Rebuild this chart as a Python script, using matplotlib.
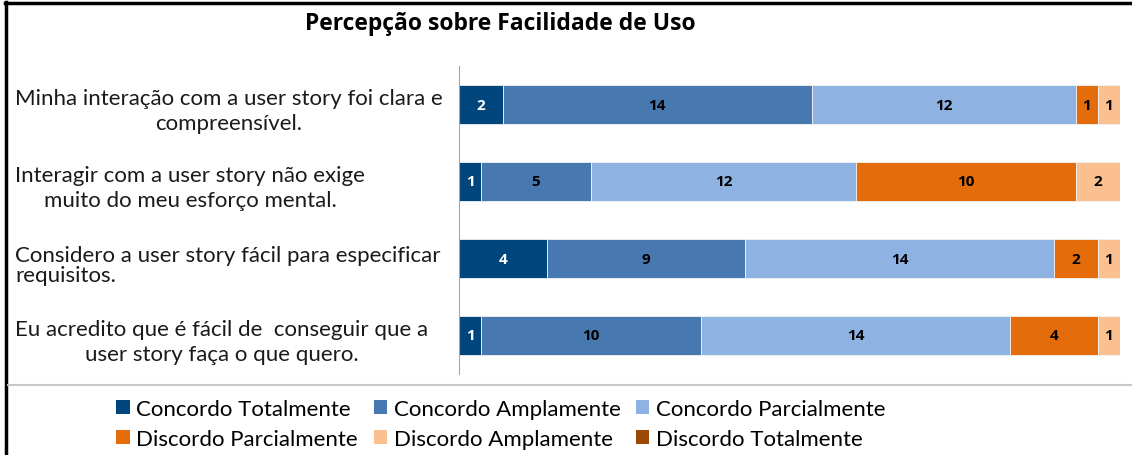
import matplotlib.pyplot as plt
from matplotlib.lines import Line2D
from matplotlib.patches import Patch
import matplotlib.transforms as mtransforms

# dados
perguntas = [
    "Minha interação com a user story foi clara e\ncompreensível.",
    "Interagir com a user story não exige\nmuito do meu esforço mental.",
    "Considero a user story fácil para especificar\nrequisitos.",
    "Eu acredito que é fácil de  conseguir que a\nuser story faça o que quero.",
]
alinhamento = ["center", "center", "left", "center"]
entrelinhas = [1.3, 1.3, 1.0, 1.3]
respostas = [
    "Concordo Totalmente", "Concordo Amplamente", "Concordo Parcialmente",
    "Discordo Parcialmente", "Discordo Amplamente", "Discordo Totalmente",
]
concordo_totalmente = [2, 1, 4, 1]
concordo_amplamente = [14, 5, 9, 10]
concordo_parcialmente = [12, 12, 14, 14]
discordo_parcialmente = [1, 10, 2, 4]
discordo_amplamente = [1, 2, 1, 1]
discordo_totalmente = [0, 0, 0, 0]

series = [concordo_totalmente, concordo_amplamente, concordo_parcialmente,
          discordo_parcialmente, discordo_amplamente, discordo_totalmente]
cores = ["#00467C", "#4878B0", "#8EB3E2", "#E46C0A", "#FAC090", "#9A4A06"]
cor_texto = ["white", "black", "black", "black", "black", "black"]

fig = plt.figure(figsize=(11.32, 4.56), dpi=100)
ax = fig.add_axes([459 / 1132, 1 - 375 / 456, (1120 - 459) / 1132, (375 - 67) / 456])

y = list(range(len(perguntas)))
esquerda = [0] * len(perguntas)
for vals, cor, ct in zip(series, cores, cor_texto):
    barras = ax.barh(y, vals, left=esquerda, height=0.5, color=cor,
                     edgecolor="#F2F2F2", linewidth=0.6)
    ax.bar_label(barras, labels=[str(v) if v else "" for v in vals],
                 label_type="center", color=ct, fontsize=11,
                 fontweight="bold", family="Open Sans")
    esquerda = [a + b for a, b in zip(esquerda, vals)]

ax.set_xlim(0, 30)
ax.set_ylim(3.5, -0.5)
ax.set_xticks([])
ax.set_yticks([])
for s in ["top", "right", "bottom"]:
    ax.spines[s].set_visible(False)
ax.spines["left"].set_color("#A6A6A6")

# rótulos das perguntas
trans = mtransforms.blended_transform_factory(fig.transFigure, ax.transData)
for i, (txt, al, ls) in enumerate(zip(perguntas, alinhamento, entrelinhas)):
    ax.text(15 / 1132, i + 0.08, txt, transform=trans, ha="left", va="center",
            multialignment=al, fontsize=16, family="Lato", linespacing=ls,
            color="#1A1A1A")

fig.text(500 / 1132, 1 - 24 / 456, "Percepção sobre Facilidade de Uso",
         ha="center", va="center", fontsize=16.5, fontweight="bold",
         family="Open Sans")

# moldura
fig.add_artist(Line2D([6 / 1132, 6 / 1132], [0, 1 - 3 / 456],
                      transform=fig.transFigure, color="black", lw=2.5))
fig.add_artist(Line2D([5 / 1132, 1], [1 - 3.5 / 456, 1 - 3.5 / 456],
                      transform=fig.transFigure, color="black", lw=2.5))
fig.add_artist(Line2D([8 / 1132, 1], [1 - 385.5 / 456, 1 - 385.5 / 456],
                      transform=fig.transFigure, color="#C8C8C8", lw=1.5))

# legenda
ordem = [0, 3, 1, 4, 2, 5]
handles = [Patch(facecolor=cores[k]) for k in ordem]
nomes = [respostas[k] for k in ordem]
fig.legend(handles, nomes, ncol=3, loc="center", bbox_to_anchor=(501 / 1132, 1 - 425 / 456),
           frameon=False, prop={"family": "Lato", "size": 16},
           handlelength=0.6, handleheight=0.6, handletextpad=0.3,
           columnspacing=0.7, labelspacing=0.45, borderpad=0)

fig.savefig("out.png", dpi=100)
